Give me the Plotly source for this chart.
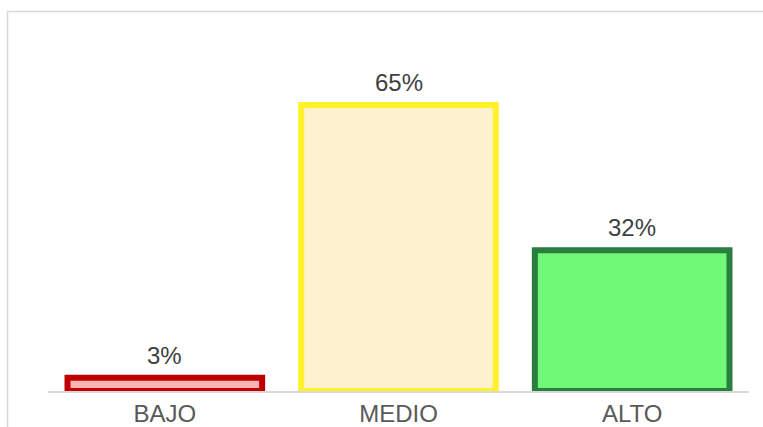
import plotly.graph_objects as go

# Categories and shares (percent)
categories = ["BAJO", "MEDIO", "ALTO"]
values = [3, 65, 32]
labels = ["3%", "65%", "32%"]

fill_colors = ["#F8B3B1", "#FDF2CD", "#6FF977"]
line_colors = ["#C00000", "#FFF22B", "#2A7E3E"]

W, H = 763, 427
M_L, M_R, M_T, M_B = 48, 14, 83, 36
FONT = "Arial, Liberation Sans, sans-serif"

fig = go.Figure(
    go.Bar(
        x=categories,
        y=values,
        marker=dict(color=fill_colors, line=dict(color=line_colors, width=6)),
        hoverinfo="skip",
    )
)

# Value labels above each bar
for cat, val, lab in zip(categories, values, labels):
    fig.add_annotation(
        x=cat, y=val, text=lab, showarrow=False,
        yanchor="bottom", yshift=7,
        font=dict(family=FONT, size=24, color="#404040"),
    )

# Light grey chart-area frame (top and left edges visible)
plot_w = W - M_L - M_R
plot_h = H - M_T - M_B
fig.add_shape(
    type="rect", xref="paper", yref="paper",
    x0=(7.5 - M_L) / plot_w, x1=(W + 20 - M_L) / plot_w,
    y0=-(M_B + 20) / plot_h, y1=(H - M_B - 11.5) / plot_h,
    line=dict(color="#D9D9D9", width=1.5), fillcolor="rgba(0,0,0,0)",
    layer="below",
)

fig.update_layout(
    width=W, height=H,
    margin=dict(l=M_L, r=M_R, t=M_T, b=M_B, pad=0, autoexpand=False),
    paper_bgcolor="white", plot_bgcolor="white",
    bargap=0.167,
    showlegend=False,
    font=dict(family=FONT),
    xaxis=dict(
        showline=True, linecolor="#D9D9D9", linewidth=1.5,
        ticks="", showgrid=False, zeroline=False, automargin=False,
        tickfont=dict(family=FONT, size=24, color="#595959"),
        ticklabelstandoff=0,
    ),
    yaxis=dict(
        range=[0, 70], visible=False, showgrid=False, zeroline=False,
        automargin=False,
    ),
)

fig.write_html("out.html")
